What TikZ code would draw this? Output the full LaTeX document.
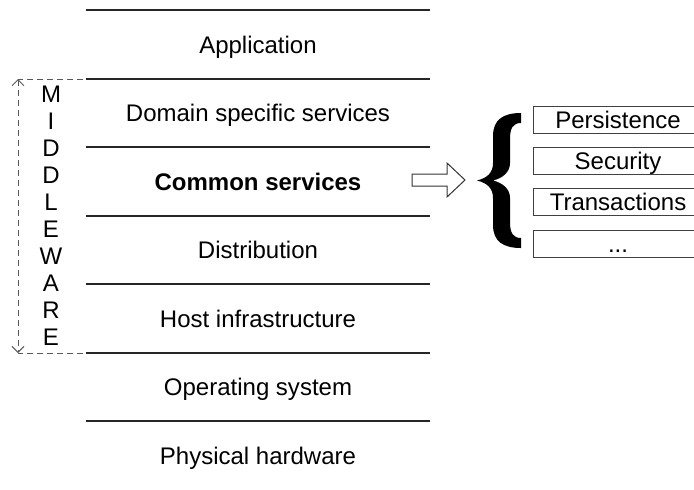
\documentclass[tikz,border=0pt]{standalone}
\usepackage{fontspec}
\setmainfont{Liberation Sans}
\usetikzlibrary{arrows.meta}
\begin{document}
\begin{tikzpicture}[x=0.5pt,y=-0.5pt,
  every node/.style={font=\fontsize{12}{14}\selectfont, inner sep=0pt, text height=8.6pt, text depth=0pt},
  layer/.style={anchor=center},
  divider/.style={line width=0.55pt, black!85},
  guide/.style={line width=0.5pt, black!65, dash pattern=on 3pt off 2pt},
  svc/.style={draw=black!75, line width=0.5pt, minimum width=85pt, minimum height=13.5pt},
  hollow/.style={draw=black!80, line width=0.5pt, fill=white, line join=miter}
]
\clip (0,0) rectangle (694,489);

% layer separators
\foreach \y in {10,79,147,216,284,353,421}
  \draw[divider] (86,\y) -- (430,\y);

% layer names
\node[layer] (app)  at (258,44.5)  {Application};
\node[layer] (dom)  at (258,113)   {Domain specific services};
\node[layer] (com)  at (258,181.5) {\bfseries Common services};
\node[layer] (dist) at (258,250)   {Distribution};
\node[layer] (host) at (258,318.5) {Host infrastructure};
\node[layer] (os)   at (258,387)   {Operating system};
\node[layer] (hw)   at (258,456)   {Physical hardware};

% vertical MIDDLEWARE label
\foreach \c [count=\i] in {M,I,D,D,L,E,W,A,R,E}
  \node (mw\i) at (51,{94+27*(\i-1)}) {\c};

% dashed span of the middleware layers
\coordinate (mtop) at (18,79);
\coordinate (mbot) at (18,353);
\coordinate (mtopr) at (83,79);
\coordinate (mbotr) at (83,353);
\draw[guide] (mtopr) -- (mtop);
\draw[guide] (mbotr) -- (mbot);
\draw[guide, {Straight Barb[length=3pt,width=6pt]}-{Straight Barb[length=3pt,width=6pt]}] (mtop) -- (mbot);

% hollow arrow towards the service list
\draw[hollow] (412,174) -- (447,174) -- (447,163) -- (465,180) -- (447,197) -- (447,186) -- (412,186) -- cycle;

% curly brace
\fill[black]
  (521,113) .. controls (504,113) and (493,119) .. (493,136)
  -- (493,163) .. controls (493,173) and (487,178) .. (477,180.5)
  .. controls (487,183) and (493,188) .. (493,198)
  -- (493,225) .. controls (493,242) and (504,248) .. (521,248)
  -- (521,238) .. controls (513,238) and (510,233) .. (510,222)
  -- (510,198) .. controls (510,189) and (503,183) .. (493,180.5)
  .. controls (503,178) and (510,172) .. (510,163)
  -- (510,139) .. controls (510,128) and (513,123) .. (521,123)
  -- cycle;

% common services
\node[svc] (pers)  at (618,119.5) {Persistence};
\node[svc] (sec)   at (618,161)   {Security};
\node[svc] (trans) at (618,202)   {Transactions};
\node[svc] (more)  at (618,243.5) {...};
\end{tikzpicture}
\end{document}
